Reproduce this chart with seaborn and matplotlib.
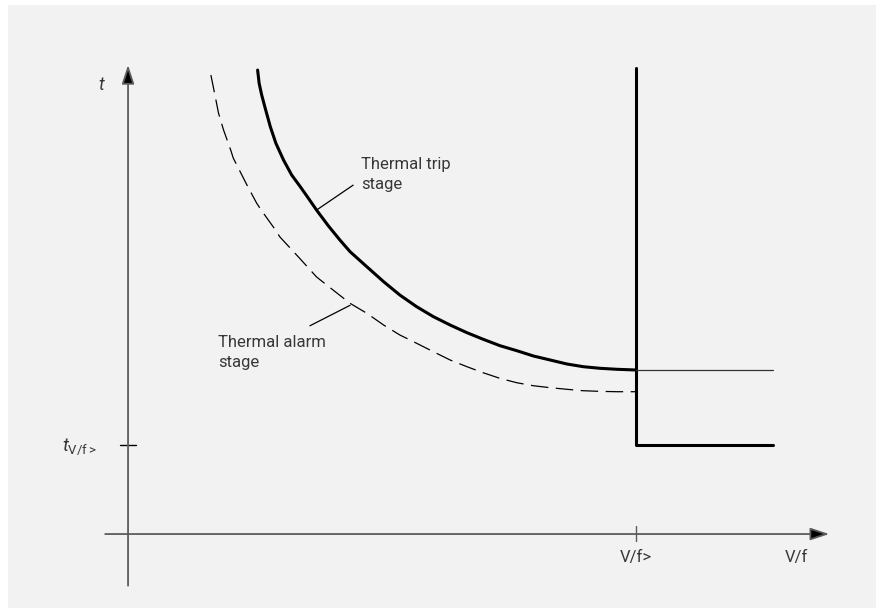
import pandas as pd
import matplotlib
matplotlib.use("Agg")
import matplotlib.pyplot as plt
import seaborn as sns
from matplotlib.patches import Rectangle

# Values: V/f in % of V/f>, t in % of t_V/f>
trip_vf = [25.5, 25.8, 26.3, 27.0, 28.0, 29.1, 30.6, 32.2, 33.9, 35.5,
           37.1, 39.4, 41.7, 43.7, 47.0, 50.3, 53.5, 56.8, 60.1, 63.4,
           66.7, 69.9, 73.2, 76.5, 79.8, 83.1, 86.4, 89.6, 92.9, 96.2,
           100.0]
trip_t = [521.3, 506.4, 493.3, 478.3, 457.6, 439.0, 420.2, 403.4, 390.2, 377.2,
          364.0, 346.4, 330.3, 317.2, 300.3, 283.5, 268.5, 255.4, 244.2, 234.8,
          226.2, 218.8, 211.6, 206.0, 200.0, 195.5, 191.0, 188.0, 186.2, 185.1,
          184.3]

alarm_vf = [16.3, 17.1, 17.8, 18.8, 20.2, 20.7, 22.6, 23.4, 25.3, 26.2,
            28.6, 29.9, 33.9, 37.1, 41.1, 43.7, 47.0, 50.3, 53.5, 56.8,
            60.1, 63.4, 66.7, 69.9, 73.2, 76.5, 79.8, 83.1, 86.4, 89.6,
            92.9, 96.2, 100.0]
alarm_t = [515.7, 493.3, 473.0, 453.9, 431.5, 422.5, 401.1, 392.1, 371.9, 364.0,
           344.9, 333.7, 309.0, 288.8, 270.8, 259.2, 248.0, 234.8, 223.6, 214.3,
           204.8, 195.5, 188.0, 181.2, 174.9, 170.0, 166.6, 164.4, 162.6, 161.0,
           160.3, 159.9, 159.9]

# definite time stage (step) and the thermal level continued past V/f>
step_vf = [100, 100, 127]
step_t = [524, 100, 100]
level_vf = [100, 127]
level_t = [184.3, 184.3]

vf_pickup = 100
t_pickup = 100

sns.set_theme(style="white")
plt.rcParams["font.family"] = ["Roboto", "DejaVu Sans"]
plt.rcParams["mathtext.fontset"] = "custom"
plt.rcParams["mathtext.rm"] = "Roboto"
plt.rcParams["mathtext.it"] = "Roboto:italic"

fig = plt.figure(figsize=(8.76, 6.08), dpi=100)
fig.patch.set_facecolor("white")
fig.patches.append(Rectangle((8 / 876, 0), 1 - 8 / 876, 603 / 608,
                             transform=fig.transFigure, facecolor="#f2f2f2",
                             edgecolor="none", zorder=-10))
ax = fig.add_axes([0, 0, 1, 1])
ax.set_zorder(5)
ax.set_facecolor("none")
ax.set_xlim(-25.2, 147.2)
ax.set_ylim(-83.1, 600)
ax.axis("off")

axis_col = "#5c5c5c"
txt_col = "#383838"
arrow = "-|>,head_length=1.15,head_width=0.38"

# axes with arrows
ax.annotate("", xy=(0, 527), xytext=(0, -58),
            arrowprops=dict(arrowstyle=arrow, lw=1.3, mutation_scale=10,
                            shrinkA=0, shrinkB=0, fc="black", ec=axis_col))
ax.annotate("", xy=(138, 0), xytext=(-4.5, 0),
            arrowprops=dict(arrowstyle=arrow, lw=1.3, mutation_scale=10,
                            shrinkA=0, shrinkB=0, fc="black", ec=axis_col))
# ticks
ax.plot([-1.6, 1.6], [t_pickup, t_pickup], color="black", lw=1.0)
ax.plot([vf_pickup, vf_pickup], [9, -8], color=axis_col, lw=1.0)

df_trip = pd.DataFrame({"vf": trip_vf, "t": trip_t})
df_alarm = pd.DataFrame({"vf": alarm_vf, "t": alarm_t})
df_step = pd.DataFrame({"vf": step_vf, "t": step_t})
df_level = pd.DataFrame({"vf": level_vf, "t": level_t})

sns.lineplot(data=df_trip, x="vf", y="t", ax=ax, color="black", lw=2.2,
             estimator=None, sort=False)
sns.lineplot(data=df_alarm, x="vf", y="t", ax=ax, color="black", lw=0.9,
             estimator=None, sort=False, linestyle=(0, (14, 6)))
sns.lineplot(data=df_step, x="vf", y="t", ax=ax, color="black", lw=2.2,
             estimator=None, sort=False)
sns.lineplot(data=df_level, x="vf", y="t", ax=ax, color="#333333", lw=0.9,
             estimator=None, sort=False)

# leader lines
ax.plot([37.1, 44.3], [364, 392], color="black", lw=0.9)
ax.plot([43.7, 35.8], [257, 234], color="black", lw=0.9)

ax.text(45.9, 404, "Thermal trip\nstage", fontsize=12, color=txt_col,
        ha="left", va="center", linespacing=1.35)
ax.text(17.7, 204, "Thermal alarm\nstage", fontsize=12, color=txt_col,
        ha="left", va="center", linespacing=1.35)

ax.text(-5.1, 504, "$t$", fontsize=13, color=txt_col, ha="center", va="center")
ax.text(-6.1, 98, r"$t_{\mathrm{V/f>}}$", fontsize=13.5, color=txt_col,
        ha="right", va="center")
ax.text(vf_pickup, -26, "V/f>", fontsize=12, color=txt_col, ha="center", va="center")
ax.text(131.5, -26, "V/f", fontsize=12, color=txt_col, ha="center", va="center")

fig.savefig("out.png", dpi=100)
